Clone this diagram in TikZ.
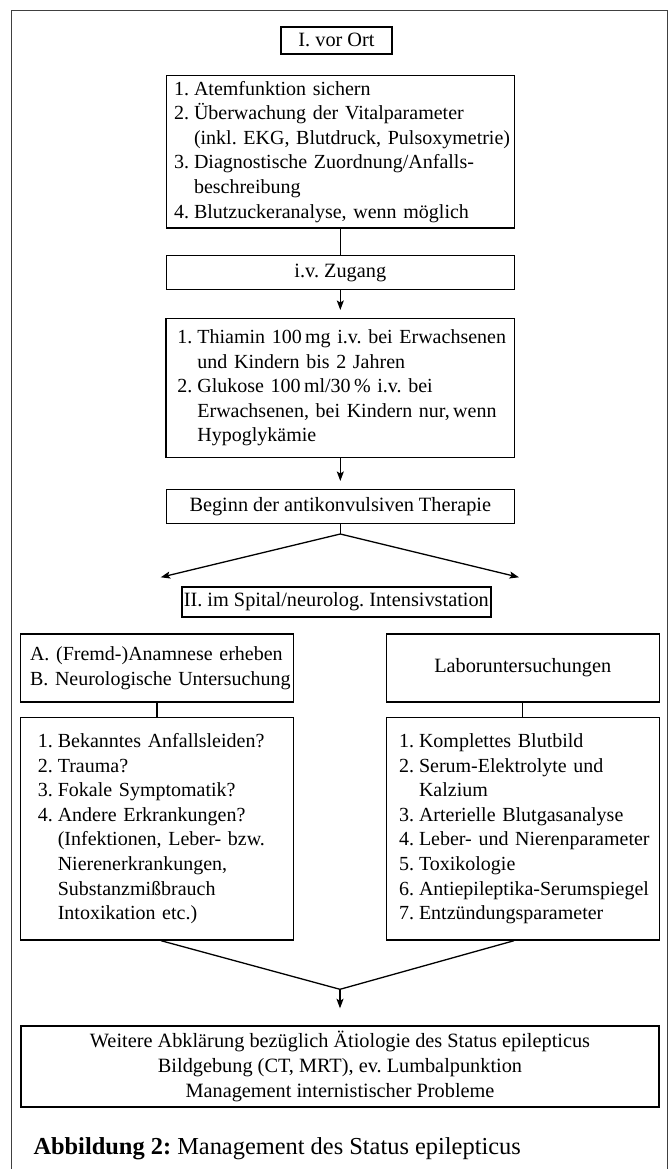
\documentclass[tikz,border=0pt]{standalone}
\usepackage{fontspec}
\setmainfont{Liberation Serif}
\usetikzlibrary{arrows.meta}

\newcommand{\nr}[1]{\makebox[1em][l]{#1}}
\newcommand{\listfont}{\fontsize{20pt}{24.6pt}\selectfont\spaceskip=4pt plus 2pt minus 1pt\relax}
\frenchspacing

\begin{document}
\begin{tikzpicture}[x=1pt, y=-1pt,
    every node/.style={font=\fontsize{20.3pt}{24.6pt}\selectfont},
    kasten/.style={draw, line width=1.4pt, inner sep=0pt},
    liste/.style={draw, line width=1.4pt, inner ysep=0pt, align=left, font=\listfont},
    pfeil/.style={-{Stealth[length=9.5pt,width=7pt,inset=2pt]}, line width=1.3pt},
    linie/.style={line width=1.3pt}]

        \useasboundingbox (0,0) rectangle (671,1169);

        % frame
        \draw [line width=1pt, draw=black!75] (11.7,1169) -- (11.7,11) -- (667.5,11) -- (667.5,1169);

        % nodes
        \node [kasten, line width=2pt, minimum width=110.7pt, minimum height=27.3pt] (ort) at (336.5, 40.3) {I. vor Ort};

        \node [liste, text width=332.6pt, inner xsep=7.8pt, minimum height=152.7pt] (erst) at (340.3, 151.65) {%
            \begin{tabular}{@{}l@{}}
            \nr{1.}Atemfunktion sichern\\
            \nr{2.}Überwachung der Vitalparameter\\
            \nr{}(inkl. EKG, Blutdruck, Pulsoxymetrie)\\
            \nr{3.}Diagnostische Zuordnung/Anfalls-\\
            \nr{}beschreibung\\
            \nr{4.}Blutzuckeranalyse, wenn möglich
            \end{tabular}};

        \node [kasten, minimum width=348.2pt, minimum height=33.6pt] (zugang) at (340.3, 272.5) {i.v. Zugang};

        \node [liste, text width=325.8pt, inner xsep=11.3pt, minimum height=139pt] (thiamin) at (340.3, 387.8) {%
            \begin{tabular}{@{}l@{}}
            \nr{1.}Thiamin 100\,mg i.v. bei Erwachsenen\\
            \nr{}und Kindern bis 2 Jahren\\
            \nr{2.}Glukose 100\,ml/30\,\% i.v. bei\\
            \nr{}Erwachsenen, bei Kindern nur,\,wenn\\
            \nr{}Hypoglykämie
            \end{tabular}};

        \node [kasten, minimum width=348.2pt, minimum height=34pt] (beginn) at (340.3, 506.3) {Beginn der antikonvulsiven Therapie};

        \coordinate (gabel) at (340.3, 534);
        \coordinate (links) at (160.7, 577.3);
        \coordinate (rechts) at (519, 577.3);

        \node [kasten, line width=2pt, minimum width=309.3pt, minimum height=30pt] (spital) at (336.3, 601.7) {II. im Spital/neurolog. Intensivstation};

        \node [liste, text width=254.2pt, inner xsep=9.4pt, minimum height=68pt] (anam) at (157.1, 668) {%
            \begin{tabular}{@{}l@{}}
            A. (Fremd-)Anamnese erheben\\
            B. Neurologische Untersuchung
            \end{tabular}};

        \node [kasten, minimum width=272.9pt, minimum height=68pt] (labor) at (522.75, 668) {Laboruntersuchungen};

        \node [liste, text width=238.6pt, inner xsep=17.2pt, minimum height=222.7pt] (fragen) at (157.1, 828.65) {%
            \begin{tabular}{@{}l@{}}
            \nr{1.}Bekanntes Anfallsleiden?\\
            \nr{2.}Trauma?\\
            \nr{3.}Fokale Symptomatik?\\
            \nr{4.}Andere Erkrankungen?\\
            \nr{}(Infektionen, Leber- bzw.\\
            \nr{}Nierenerkrankungen,\\
            \nr{}Substanzmißbrauch\\
            \nr{}Intoxikation etc.)
            \end{tabular}};

        \node [liste, text width=247.5pt, inner xsep=12.7pt, minimum height=222.7pt] (werte) at (522.75, 828.65) {%
            \begin{tabular}{@{}l@{}}
            \nr{1.}Komplettes Blutbild\\
            \nr{2.}Serum-Elektrolyte und\\
            \nr{}Kalzium\\
            \nr{3.}Arterielle Blutgasanalyse\\
            \nr{4.}Leber- und Nierenparameter\\
            \nr{5.}Toxikologie\\
            \nr{6.}Antiepileptika-Serumspiegel\\
            \nr{7.}Entzündungsparameter
            \end{tabular}};

        \coordinate (treff) at (340, 989.3);

        \node [kasten, line width=2pt, align=center, minimum width=638.6pt, minimum height=81pt] (weitere) at (340, 1066.5) {%
            Weitere Abklärung bezüglich Ätiologie des Status epilepticus\\
            Bildgebung (CT, MRT), ev. Lumbalpunktion\\
            Management internistischer Probleme};

        \node [anchor=base west, inner sep=0pt, font=\fontsize{24.4pt}{29pt}\selectfont] (titel) at (33.3, 1154) {\textbf{Abbildung 2:} Management des Status epilepticus};

        % arrows
        \draw [linie] (erst) -- (zugang);
        \draw [pfeil, shorten >=7.6pt] (zugang) -- (thiamin);
        \draw [pfeil, shorten >=7.6pt] (thiamin) -- (beginn);

        % branch
        \draw [linie] (beginn.south) -- (gabel);
        \draw [pfeil] (gabel) -- (links);
        \draw [pfeil] (gabel) -- (rechts);

        \draw [linie] (anam) -- (fragen);
        \draw [linie] (labor) -- (werte);

        % merge
        \draw [linie] ([xshift=4pt]fragen.south) -- (treff);
        \draw [linie] ([xshift=-8.75pt]werte.south) -- (treff);
        \draw [pfeil, shorten >=16.7pt] (treff) -- (weitere.north -| treff);
    \end{tikzpicture}
\end{document}
